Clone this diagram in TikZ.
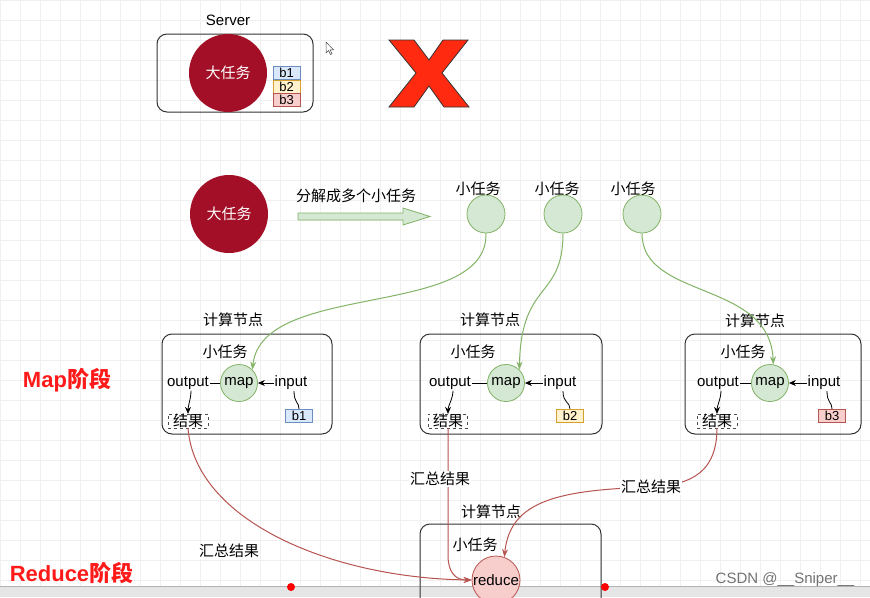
\documentclass[tikz,border=0pt]{standalone}
\usepackage{fontspec}
\setmainfont{Liberation Sans}
\newfontfamily\cjk{Noto Sans CJK SC}
\usetikzlibrary{arrows.meta}
\definecolor{bigred}{HTML}{A30F26}
\definecolor{gfill}{HTML}{D5E8D4}
\definecolor{gline}{HTML}{82B366}
\definecolor{rfill}{HTML}{F8CECC}
\definecolor{rline}{HTML}{B85450}
\definecolor{bfill}{HTML}{DAE8FC}
\definecolor{bline}{HTML}{6C8EBF}
\definecolor{yfill}{HTML}{FFF2CC}
\definecolor{yline}{HTML}{D6A030}
\definecolor{stagered}{HTML}{FF1A1A}
\definecolor{xred}{HTML}{FF2A10}

\begin{document}
\begin{tikzpicture}[x=1pt,y=-1pt,
  txt/.style={font=\fontsize{15}{17}\selectfont},
  cn/.style={font=\cjk\fontsize{15}{17}\selectfont},
  bigtask/.style={circle,fill=bigred,minimum size=78pt,inner sep=0pt,text=white,font=\cjk\fontsize{15}{17}\selectfont},
  subtask/.style={circle,draw=gline,fill=gfill,line width=0.8pt,minimum size=38pt,inner sep=0pt},
  mapnode/.style={subtask,minimum size=37pt,font=\fontsize{15}{17}\selectfont},
  nodebox/.style={draw=black!80,line width=1pt,rounded corners=10pt},
  blk/.style={draw=#1line,fill=#1fill,minimum width=27pt,minimum height=13pt,inner sep=0pt,font=\fontsize{13}{13}\selectfont},
  result/.style={draw=black!70,dashed,minimum width=40pt,minimum height=13pt,inner sep=0pt,font=\cjk\fontsize{15}{14}\selectfont},
  sum/.style={fill=white,inner sep=1pt,font=\cjk\fontsize{15}{17}\selectfont},
  stage/.style={text=stagered,font=\bfseries\fontsize{22}{24}\selectfont},
  garrow/.style={draw=gline,line width=1pt,-{Stealth[length=8pt,width=6pt]}},
  rarrow/.style={draw=rline,line width=1pt,-{Stealth[length=8pt,width=6pt]}},
  karrow/.style={line width=0.8pt,-{Stealth[length=7pt,width=6pt]}}
]
\useasboundingbox (0,0) rectangle (870,597);
\clip (0,0) rectangle (870,597);
\fill[white] (0,0) rectangle (870,597);
\draw[black!6,step=20pt] (0,597) grid (870,0);
\fill[black!10] (0,586) rectangle (870,597);
\draw[black!30] (0,586) -- (870,586);

% server
\node[txt] (server) at (228,20) {Server};
\node[nodebox,minimum width=156pt,minimum height=78pt] (srvbox) at (235,73) {};
\node[bigtask] (big1) at (228,73) {大任务};
\node[blk=b] (sb1) at (286.5,73) {b1};
\node[blk=y] (sb2) at (286.5,86.5) {b2};
\node[blk=r] (sb3) at (286.5,99.5) {b3};
\filldraw[fill=white,draw=black!70,line width=0.5pt] (326,42) -- (326,53) -- (328.5,50.5) -- (330.5,54.5) -- (332,53.8) -- (330,49.8) -- (333.5,49.8) -- cycle;
\filldraw[fill=xred,draw=black!80,line width=0.8pt] (389,40) -- (414,40) -- (429,60) -- (443,40) -- (468,40) -- (442,73) -- (469,107) -- (444,107) -- (429,86) -- (414,107) -- (389,107) -- (416,73) -- cycle;

% split
\node[bigtask] (big2) at (229,214) {大任务};
\node[cn] (split) at (356,196) {分解成多个小任务};
\filldraw[fill=gfill,draw=gline,line width=0.8pt] (298,213) -- (403,213) -- (403,208) -- (430,216.5) -- (403,225) -- (403,220) -- (298,220) -- cycle;
\node[subtask] (c1) at (486,214) {};
\node[subtask] (c2) at (563,214) {};
\node[subtask] (c3) at (642,214) {};
\node[cn] (c1lbl) at (478,189) {小任务};
\node[cn] (c2lbl) at (557,189) {小任务};
\node[cn] (c3lbl) at (633,189) {小任务};

% map
\node[stage] (mapstage) at (67,380) {Map{\cjk 阶段}};
\node[nodebox,minimum width=170pt,minimum height=100pt] (box1) at (247,384) {};
\node[nodebox,minimum width=182pt,minimum height=100pt] (box2) at (511,384) {};
\node[nodebox,minimum width=176pt,minimum height=100pt] (box3) at (773,384) {};
\node[cn] (box1lbl) at (233,320) {计算节点};
\node[cn] (box2lbl) at (490,320) {计算节点};
\node[cn] (box3lbl) at (755,321) {计算节点};
\node[cn] (t1) at (225,352) {小任务};
\node[cn] (t2) at (473,352) {小任务};
\node[cn] (t3) at (743,352) {小任务};

\node[mapnode] (map1) at (239,383) {map};
\node[mapnode] (map2) at (506,383) {map};
\node[mapnode] (map3) at (770,383) {map};
\node[txt,inner sep=1pt] (out1) at (188,383) {output};
\node[txt,inner sep=1pt] (out2) at (450,383) {output};
\node[txt,inner sep=1pt] (out3) at (718,383) {output};
\node[txt,inner sep=1pt] (in1) at (291,383) {input};
\node[txt,inner sep=1pt] (in2) at (560,383) {input};
\node[txt,inner sep=1pt] (in3) at (824,383) {input};
\node[blk=b] (b1) at (299,415.5) {b1};
\node[blk=y] (b2) at (570,415.5) {b2};
\node[blk=r] (b3) at (832,415.5) {b3};
\node[result] (res1) at (188,421) {结果};
\node[result,minimum width=39pt] (res2) at (448,421) {结果};
\node[result] (res3) at (717,421) {结果};

\foreach \i in {1,2,3} {
  \draw[line width=0.8pt] (out\i) -- (map\i);
  \draw[karrow] (in\i) -- (map\i);
  \draw[line width=0.8pt] ([xshift=3pt]in\i.south) .. controls +(0,12) and +(0,-7) .. (b\i.north);
  \draw[karrow] ([xshift=3pt]out\i.south) .. controls +(0,8) and +(0,-8) .. (res\i.north);
}

\draw[garrow] (c1.south) .. controls (488,320) and (262,280) .. (map1.north east);
\draw[garrow] (c2.south) .. controls (563,300) and (521,280) .. (map2.north east);
\draw[garrow] (c3.south) .. controls (642,300) and (770,280) .. (map3.80);

% reduce
\node[stage] (redstage) at (71.5,573) {Reduce{\cjk 阶段}};
\node[nodebox,minimum width=181pt,minimum height=116pt] (box4) at (510.5,582) {};
\node[cn] (box4lbl) at (491,512) {计算节点};
\node[cn] (t4) at (475,545) {小任务};
\node[circle,draw=rline,fill=rfill,line width=0.8pt,minimum size=48pt,inner sep=0pt,txt] (reduce) at (496,580) {reduce};

\draw[rarrow] (res1.south) .. controls (195,520) and (330,578) .. (reduce.west);
\draw[rarrow] (res2.south) -- (448,555) .. controls (448,572) and (455,580) .. (reduce.west);
\draw[rarrow] (res3.south) .. controls (717,480) and (680,485) .. (651,487) .. controls (560,490) and (510,500) .. (reduce.70);
\node[sum] (sum1) at (229,551) {汇总结果};
\node[sum] (sum2) at (440,479) {汇总结果};
\node[sum] (sum3) at (651,487) {汇总结果};

\fill[red] (291,587) circle (4pt);
\fill[red] (605,587) circle (4pt);
\node[txt,text=black!55,font=\fontsize{15}{16}\selectfont] (mark) at (785,580) {CSDN @\_\_Sniper\_\_};
\end{tikzpicture}
\end{document}
